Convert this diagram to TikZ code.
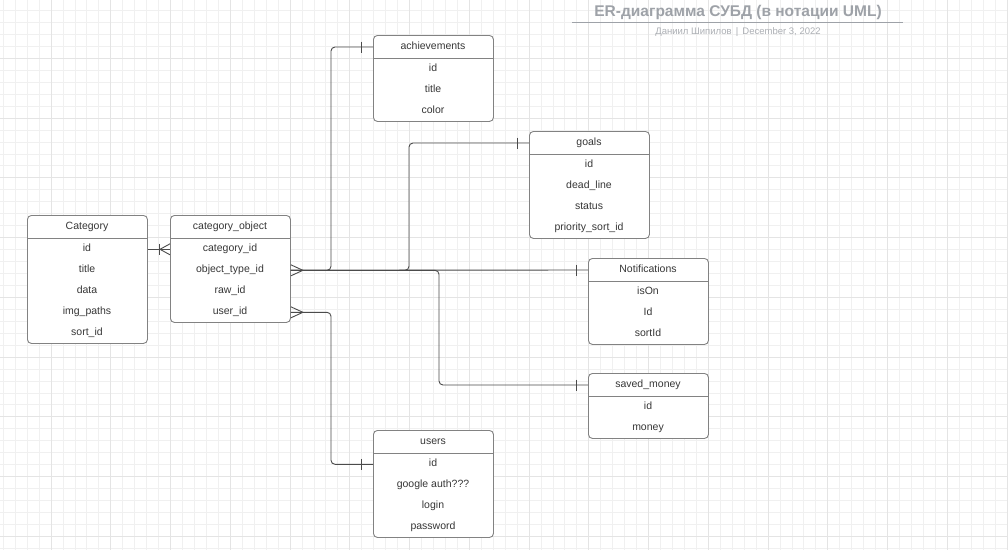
\documentclass[tikz,border=0pt]{standalone}
\usepackage{fontspec}
\setmainfont{Liberation Sans}
\usetikzlibrary{calc}
\definecolor{txt}{RGB}{55,55,55}
\definecolor{boxline}{RGB}{130,130,130}
\definecolor{conncol}{RGB}{75,75,75}
\definecolor{gridmin}{RGB}{240,240,240}
\definecolor{gridmaj}{RGB}{228,228,228}
\definecolor{titlecol}{RGB}{158,162,168}
\definecolor{subcol}{RGB}{172,175,180}
\tikzset{
  ebox/.style={draw=boxline, line width=0.9pt, rounded corners=4pt, minimum width=120pt, anchor=north west, inner sep=0pt, fill=white},
  seprule/.style={draw=boxline, line width=0.9pt},
  hdr/.style={text=txt, font=\fontsize{10.5}{12}\selectfont, inner sep=0pt, text height=7.5pt, text depth=2.2pt},
  rowtxt/.style={hdr},
  conn/.style={draw=conncol, line width=0.9pt, rounded corners=4pt},
  crowout/.pic={\draw[conn, rounded corners=0pt] (0,-5.5) -- (12,0) -- (0,5.5);},
  crowin/.pic={\draw[conn, rounded corners=0pt] (0,-5.5) -- (-10,0) -- (0,5.5); \draw[conn] (-11,-5.5) -- (-11,5.5);},
  barv/.pic={\draw[conn] (0,-5.5) -- (0,5.5);},
}
\newcommand\ERent[6]{%
  \node[ebox, minimum height=23+21*#5] (#1) at (#2,#3) {};
  \draw[seprule] (#2,#3+23) -- (#2+120,#3+23);
  \node[hdr] (#1-h) at (#2+60,#3+12) {#4};
  \foreach \r [count=\i] in {#6} {\node[rowtxt] (#1-\i) at (#2+60,#3+13.3+21*\i) {\r};}
}
\begin{document}
\begin{tikzpicture}[x=1pt,y=-1pt]
\useasboundingbox (0,0) rectangle (1008,550);
\fill[white] (0,0) rectangle (1008,550);
% grid
\foreach \i in {0,...,84} {\draw[gridmin, line width=0.8pt] (3.2+11.95*\i,0) -- (3.2+11.95*\i,550);}
\foreach \i in {0,...,45} {\draw[gridmin, line width=0.8pt] (0,10.5+11.95*\i) -- (1008,10.5+11.95*\i);}
\foreach \i in {0,...,16} {\draw[gridmaj, line width=0.9pt] (51+59.75*\i,0) -- (51+59.75*\i,550);}
\foreach \i in {-1,...,8} {\draw[gridmaj, line width=0.9pt] (0,58.3+59.75*\i) -- (1008,58.3+59.75*\i);}
% title
\node[font=\bfseries\fontsize{15.5}{18}\selectfont, text=titlecol, inner sep=0pt] (ttl) at (738,12.5) {ER-диаграмма СУБД (в нотации UML)};
\draw[titlecol, line width=1.2pt] (572,22.7) -- (903,22.7);
\node[font=\fontsize{9.5}{11}\selectfont, text=subcol, inner sep=0pt] (sub) at (738,32.5) {Даниил Шипилов \,|\, December 3, 2022};
% entities
\ERent{cat}{27}{215}{Category}{5}{id,title,data,img\_paths,sort\_id}
\ERent{co}{170}{215}{category\_object}{4}{category\_id,object\_type\_id,raw\_id,user\_id}
\ERent{ach}{373}{35}{achievements}{3}{id,title,color}
\ERent{gl}{529}{131}{goals}{4}{id,dead\_line,status,priority\_sort\_id}
\ERent{nt}{588}{258}{Notifications}{3}{isOn,Id,sortId}
\ERent{sm}{588}{373}{saved\_money}{2}{id,money}
\ERent{usr}{373}{430}{users}{4}{id,google auth???,login,password}
% junction columns
\coordinate (j1) at (331,0);
\coordinate (j2) at (409,0);
\coordinate (j3) at (439,0);
% connectors
\draw[conn] (cat-1 -| cat.east) -- (cat-1 -| co.west);
\pic at (cat-1 -| co.west) {crowin};
\draw[conn] (co-2 -| co.east) -- (nt-h -| nt.west);
\draw[conn] (co-2 -| co.east) -- (co-2 -| j1) |- (ach-h -| ach.west);
\draw[conn] (co-2 -| co.east) -- (co-2 -| j2) |- (gl-h -| gl.west);
\draw[conn] (co-2 -| co.east) -- (co-2 -| j3) |- (sm-h -| sm.west);
\draw[conn] (co-4 -| co.east) -- (co-4 -| j1) |- (usr-1 -| usr.west);
\pic at (co-2 -| co.east) {crowout};
\pic at (co-4 -| co.east) {crowout};
\pic at ($(ach-h -| ach.west)+(-12,0)$) {barv};
\pic at ($(gl-h -| gl.west)+(-12,0)$) {barv};
\pic at ($(nt-h -| nt.west)+(-12,0)$) {barv};
\pic at ($(sm-h -| sm.west)+(-12,0)$) {barv};
\pic at ($(usr-1 -| usr.west)+(-12,0)$) {barv};
\end{tikzpicture}
\end{document}
